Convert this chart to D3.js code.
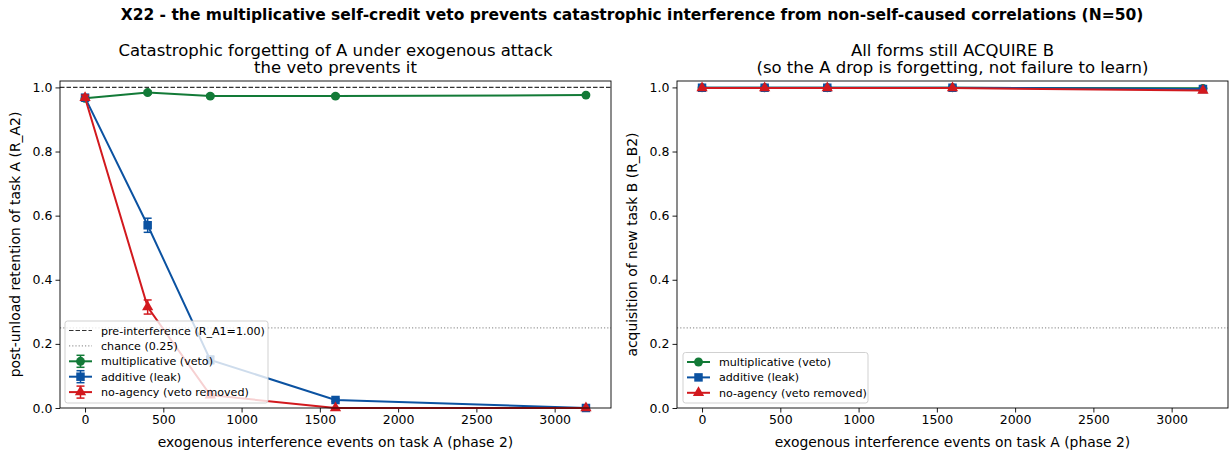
<!DOCTYPE html>
<html><head><meta charset="utf-8">
<script src="https://cdn.jsdelivr.net/npm/d3@7"></script>
<style>body{margin:0;background:#fff}svg{font-family:"DejaVu Sans",sans-serif}</style>
</head><body>
<svg id="c" width="1231" height="455"></svg>
<script>
const xVals = [0, 400, 800, 1600, 3200];
const xTicks = [0, 500, 1000, 1500, 2000, 2500, 3000];
const yTicks = [0.0, 0.2, 0.4, 0.6, 0.8, 1.0];
const seriesNames = ["multiplicative (veto)", "additive (leak)", "no-agency (veto removed)"];
// left panel: retention of A
const retMult = [0.966, 0.984, 0.973, 0.973, 0.976];
const retMultErr = [0.005, 0.005, 0.005, 0.005, 0.004];
const retAdd = [0.968, 0.570, 0.150, 0.025, 0.0];
const retAddErr = [0.008, 0.022, 0.012, 0.004, 0.001];
const retNo = [0.968, 0.315, 0.040, 0.0, 0.0];
const retNoErr = [0.008, 0.022, 0.005, 0.001, 0.0];
// right panel: acquisition of B
const acqMult = [0.999, 0.999, 0.999, 0.999, 0.997];
const acqAdd = [0.999, 0.999, 0.999, 0.999, 0.995];
const acqNo = [0.998, 0.998, 0.998, 0.998, 0.990];
const preInterference = 1.0;
const chance = 0.25;

const colors = ["#127a37", "#0b52a1", "#d2191e"];
const shapes = [d3.symbolCircle, d3.symbolSquare, d3.symbolTriangle];
const markerArea = [62, 72, 55];

const svg = d3.select("#c");
svg.append("text").attr("x", 632).attr("y", 20).attr("text-anchor", "middle")
  .attr("font-weight", "bold").attr("font-size", 15.5)
  .text("X22 - the multiplicative self-credit veto prevents catastrophic interference from non-self-caused correlations (N=50)");

function panel(x0, x1, titles, ylabel, series, showPre, legendItems, legendBox) {
  const top = 81, bottom = 408;
  const x = d3.scaleLinear().domain([-160, 3360]).range([x0, x1]);
  const y = d3.scaleLinear().domain([0, 1.02]).range([bottom, top]);
  const g = svg.append("g");
  const xa = g.append("g").attr("transform", `translate(0,${bottom})`)
    .call(d3.axisBottom(x).tickValues(xTicks).tickFormat(d3.format("d")).tickSize(4.5).tickPadding(3));
  const ya = g.append("g").attr("transform", `translate(${x0},0)`)
    .call(d3.axisLeft(y).tickValues(yTicks).tickFormat(d3.format(".1f")).tickSize(4.5).tickPadding(3));
  [xa, ya].forEach(a => { a.select(".domain").remove(); a.selectAll("text").attr("font-size", 12.5).attr("fill", "#000").attr("font-family", "DejaVu Sans"); a.selectAll("line").attr("stroke", "#000").attr("stroke-width", 0.9); });
  if (showPre) g.append("line").attr("x1", x0).attr("x2", x1).attr("y1", y(preInterference)).attr("y2", y(preInterference))
    .attr("stroke", "#333").attr("stroke-width", 1.1).attr("stroke-dasharray", "4.5,2");
  g.append("line").attr("x1", x0).attr("x2", x1).attr("y1", y(chance)).attr("y2", y(chance))
    .attr("stroke", "#999").attr("stroke-width", 1.1).attr("stroke-dasharray", "1.2,2");
  const line = d3.line().x((d, i) => x(xVals[i])).y(d => y(d));
  series.forEach((s, k) => {
    const sg = g.append("g");
    sg.append("path").datum(s.v).attr("d", line).attr("fill", "none").attr("stroke", colors[k]).attr("stroke-width", 2);
    if (s.e) s.v.forEach((v, i) => {
      const e = s.e[i], cx = x(xVals[i]);
      if (e <= 0) return;
      sg.append("line").attr("x1", cx).attr("x2", cx).attr("y1", y(v - e)).attr("y2", y(v + e)).attr("stroke", colors[k]).attr("stroke-width", 1.5);
      [v - e, v + e].forEach(t => sg.append("line").attr("x1", cx - 4).attr("x2", cx + 4).attr("y1", y(t)).attr("y2", y(t)).attr("stroke", colors[k]).attr("stroke-width", 1.5));
    });
    sg.selectAll("path.m").data(s.v).join("path").attr("class", "m")
      .attr("transform", (d, i) => `translate(${x(xVals[i])},${y(d)})`)
      .attr("d", d3.symbol().type(shapes[k]).size(markerArea[k])).attr("fill", colors[k]);
  });
  g.append("rect").attr("x", x0).attr("y", top).attr("width", x1 - x0).attr("height", bottom - top)
    .attr("fill", "none").attr("stroke", "#000").attr("stroke-width", 0.9);
  const cx = (x0 + x1) / 2;
  titles.forEach((t, i) => g.append("text").attr("x", cx).attr("y", 55.5 + i * 17.5).attr("text-anchor", "middle").attr("font-size", 16.5).text(t));
  g.append("text").attr("x", cx).attr("y", 446.5).attr("text-anchor", "middle").attr("font-size", 13.9).text("exogenous interference events on task A (phase 2)");
  g.append("text").attr("transform", `translate(${x0 - 40},${(top + bottom) / 2}) rotate(-90)`).attr("text-anchor", "middle").attr("font-size", 13.9).text(ylabel);
  const lg = g.append("g");
  lg.append("rect").attr("x", legendBox[0]).attr("y", legendBox[1]).attr("width", legendBox[2]).attr("height", legendBox[3])
    .attr("rx", 2.5).attr("fill", "#fff").attr("fill-opacity", 0.8).attr("stroke", "#ccc").attr("stroke-width", 0.9);
  legendItems.forEach((it, i) => {
    const ly = legendBox[1] + 9.5 + i * 15.4;
    const lx = legendBox[0] + 4;
    const hw = 23;
    if (it.type === "pre") lg.append("line").attr("x1", lx).attr("x2", lx + hw).attr("y1", ly).attr("y2", ly).attr("stroke", "#333").attr("stroke-width", 1.1).attr("stroke-dasharray", "4.5,2");
    else if (it.type === "chance") lg.append("line").attr("x1", lx).attr("x2", lx + hw).attr("y1", ly).attr("y2", ly).attr("stroke", "#999").attr("stroke-width", 1.1).attr("stroke-dasharray", "1.2,2");
    else {
      const k = it.k, mx = lx + hw / 2;
      lg.append("line").attr("x1", lx).attr("x2", lx + hw).attr("y1", ly).attr("y2", ly).attr("stroke", colors[k]).attr("stroke-width", 2);
      if (it.err) {
        lg.append("line").attr("x1", mx).attr("x2", mx).attr("y1", ly - 6).attr("y2", ly + 6).attr("stroke", colors[k]).attr("stroke-width", 1.5);
        [-6, 6].forEach(o => lg.append("line").attr("x1", mx - 4).attr("x2", mx + 4).attr("y1", ly + o).attr("y2", ly + o).attr("stroke", colors[k]).attr("stroke-width", 1.5));
      }
      lg.append("path").attr("transform", `translate(${mx},${ly})`).attr("d", d3.symbol().type(shapes[k]).size(markerArea[k])).attr("fill", colors[k]);
    }
    lg.append("text").attr("x", legendBox[0] + 36).attr("y", ly + 4).attr("font-size", 11.1).text(it.label);
  });
}

panel(60, 611,
  ["Catastrophic forgetting of A under exogenous attack", "the veto prevents it"],
  "post-unload retention of task A  (R_A2)",
  [{v: retMult, e: retMultErr}, {v: retAdd, e: retAddErr}, {v: retNo, e: retNoErr}],
  true,
  [{type: "pre", label: "pre-interference (R_A1=1.00)"}, {type: "chance", label: "chance (0.25)"},
   {k: 0, err: true, label: seriesNames[0]}, {k: 1, err: true, label: seriesNames[1]}, {k: 2, err: true, label: seriesNames[2]}],
  [65, 321, 203, 82]);

panel(677, 1228,
  ["All forms still ACQUIRE B", "(so the A drop is forgetting, not failure to learn)"],
  "acquisition of new task B  (R_B2)",
  [{v: acqMult}, {v: acqAdd}, {v: acqNo}],
  false,
  [{k: 0, label: seriesNames[0]}, {k: 1, label: seriesNames[1]}, {k: 2, label: seriesNames[2]}],
  [683, 352.5, 185, 50.5]);
</script>
</body></html>
